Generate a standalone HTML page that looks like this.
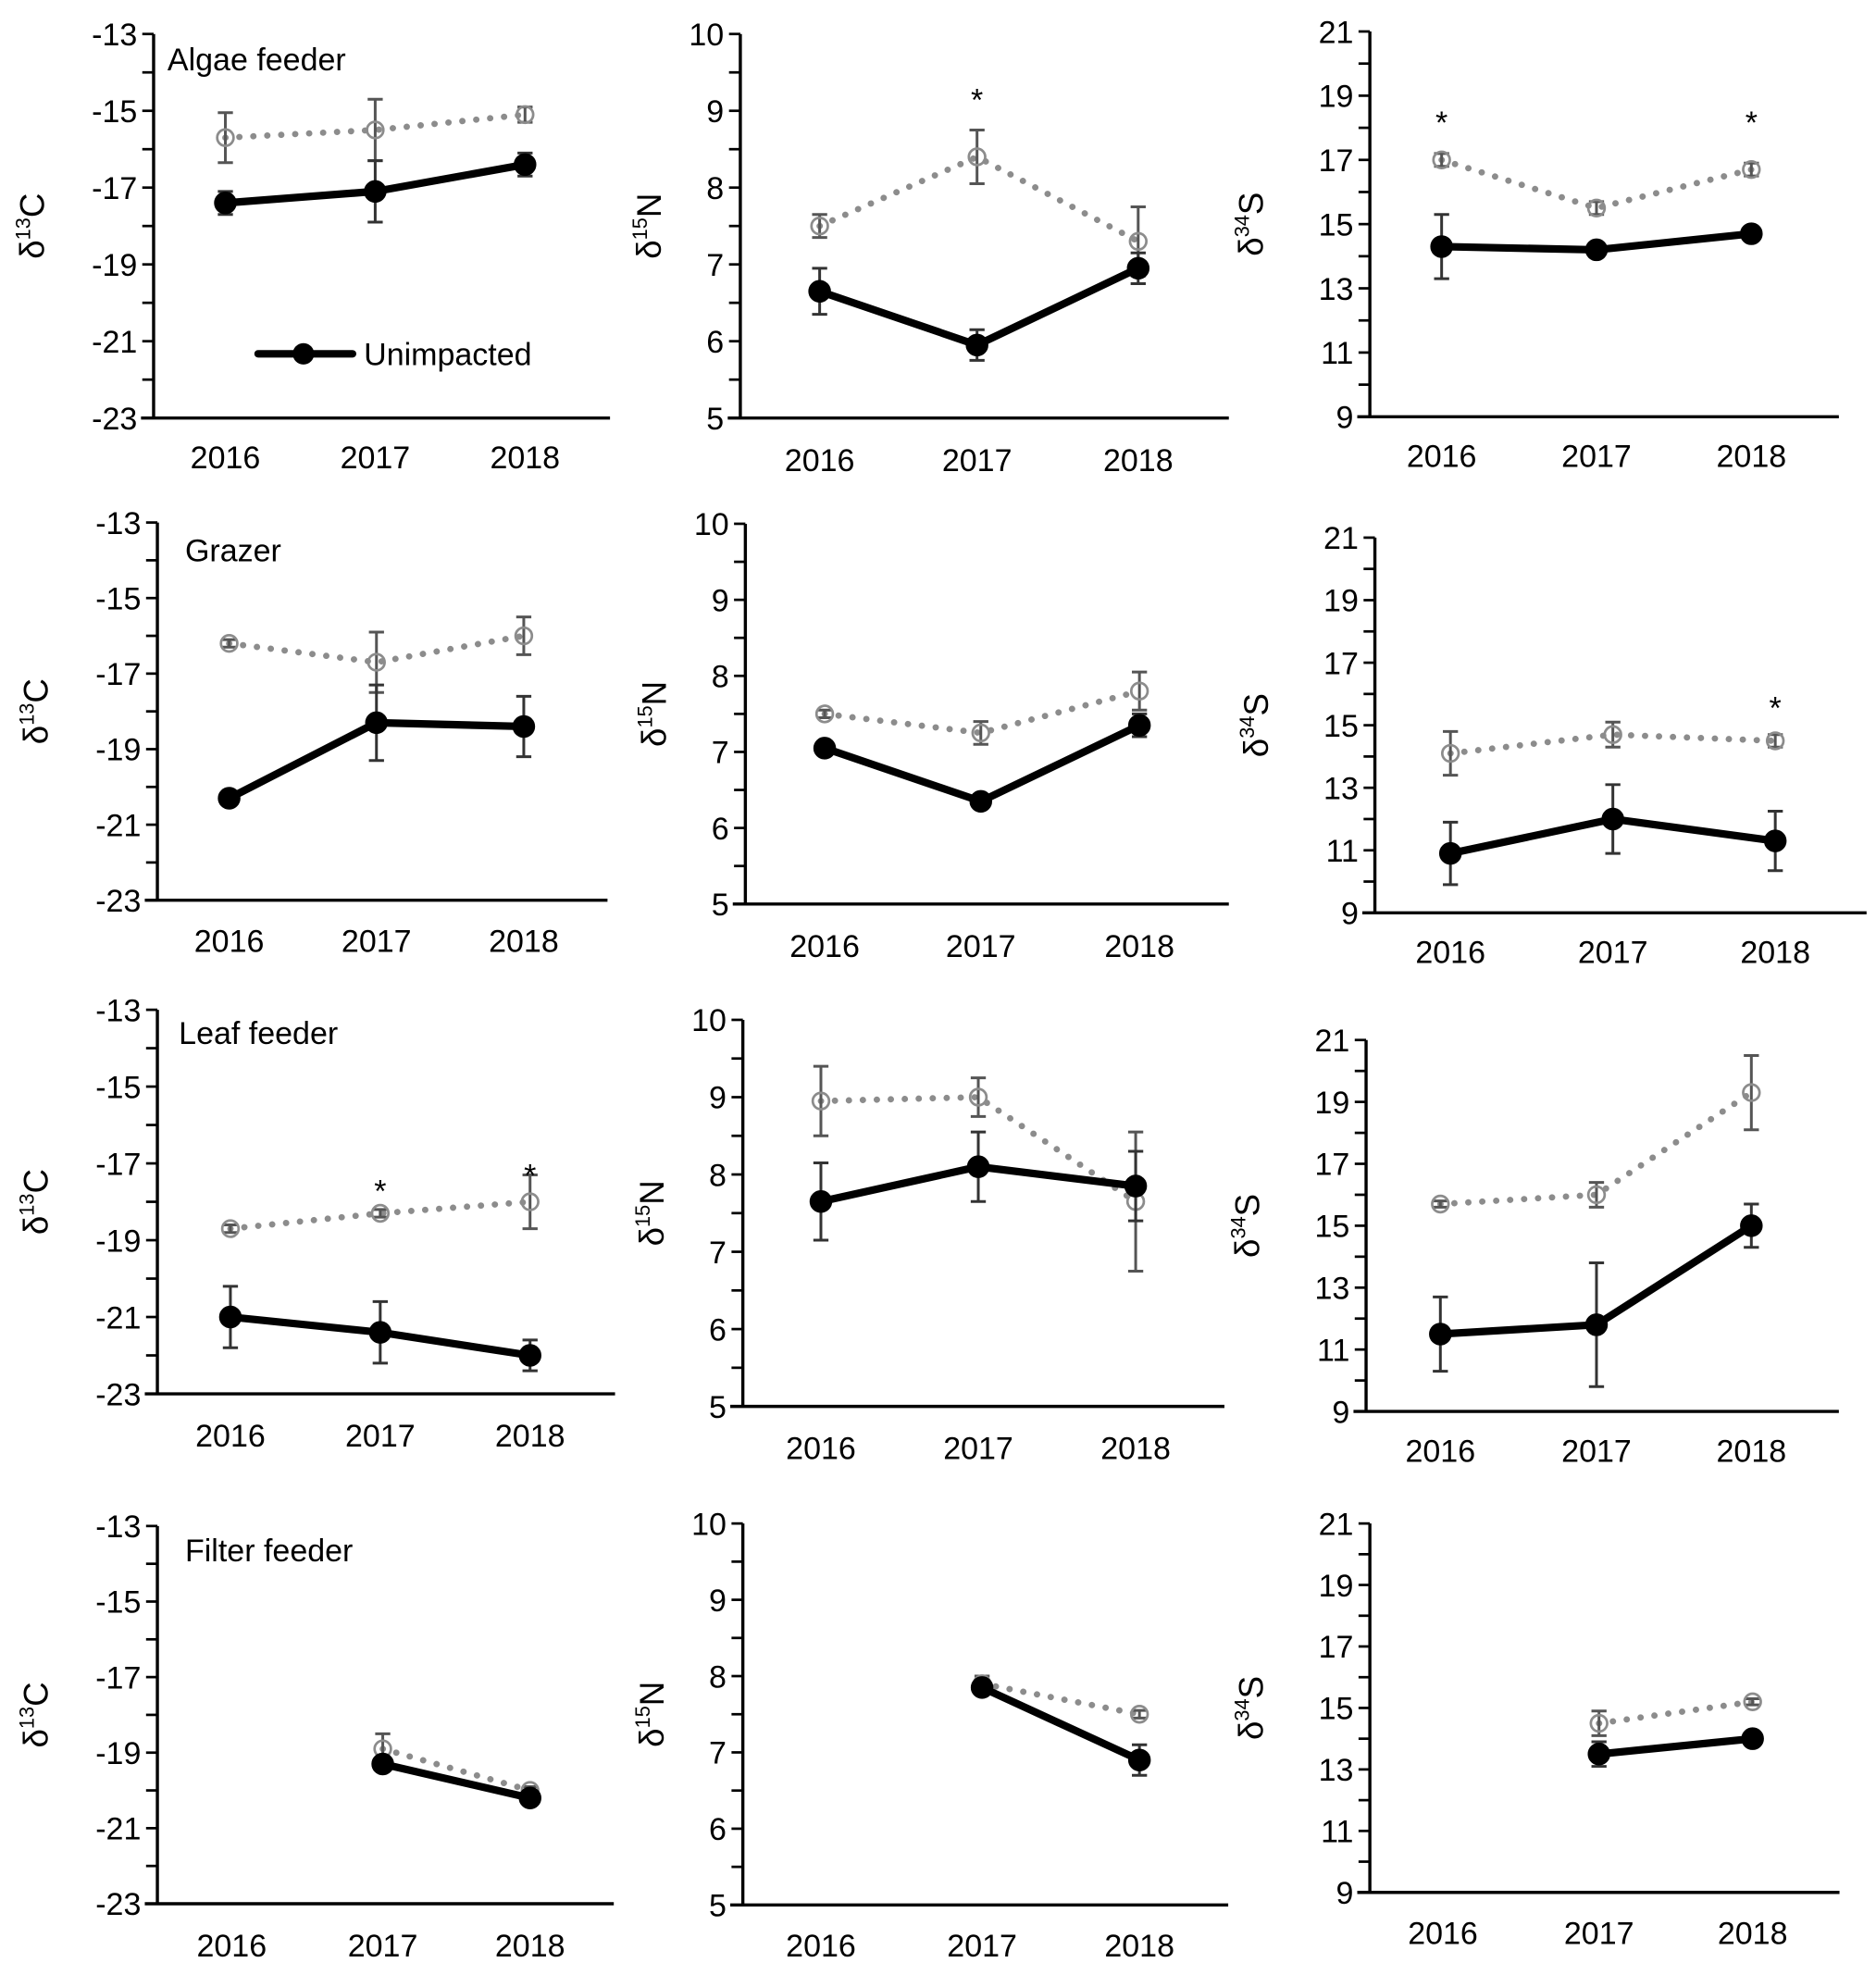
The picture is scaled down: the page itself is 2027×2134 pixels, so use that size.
<!DOCTYPE html>
<html><head><meta charset="utf-8"><style>
html,body{margin:0;padding:0;background:#fff}
svg{display:block}
text{font-family:"Liberation Sans",Arial,sans-serif;fill:#000}
</style></head><body>
<svg id="fig" width="2027" height="2134" viewBox="0 0 1490 1568.6" preserveAspectRatio="none" xmlns="http://www.w3.org/2000/svg"></svg>
<script>
const years = ["2016","2017","2018"];
const isoMin = [-23, 5, 9];
const isoMax = [-13, 10, 21];
const isoStep = [2, 1, 2];
const isoMinor = [1, 0.5, 1];
const isoSup = ["13","15","34"];
const isoEl = ["C","N","S"];
const groupNames = ["Algae feeder","Grazer","Leaf feeder","Filter feeder"];
// impacted (gray) means and errors, [row][col][year]
const impMean = [
 [[-15.7,-15.5,-15.1],[7.5,8.4,7.3],[17.0,15.5,16.7]],
 [[-16.2,-16.7,-16.0],[7.5,7.25,7.8],[14.1,14.7,14.5]],
 [[-18.7,-18.3,-18.0],[8.95,9.0,7.65],[15.7,16.0,19.3]],
 [[null,-18.9,-20.0],[null,7.9,7.5],[null,14.5,15.2]]
];
const impErr = [
 [[0.65,0.8,0.2],[0.15,0.35,0.45],[0.2,0.2,0.2]],
 [[0.1,0.8,0.5],[0.05,0.15,0.25],[0.7,0.4,0.2]],
 [[0.1,0.1,0.7],[0.45,0.25,0.9],[0.1,0.4,1.2]],
 [[0,0.4,0.1],[0,0.1,0.05],[0,0.4,0.1]]
];
const unMean = [
 [[-17.4,-17.1,-16.4],[6.65,5.95,6.95],[14.3,14.2,14.7]],
 [[-20.3,-18.3,-18.4],[7.05,6.35,7.35],[10.9,12.0,11.3]],
 [[-21.0,-21.4,-22.0],[7.65,8.1,7.85],[11.5,11.8,15.0]],
 [[null,-19.3,-20.2],[null,7.85,6.9],[null,13.5,14.0]]
];
const unErr = [
 [[0.3,0.8,0.3],[0.3,0.2,0.2],[1.0,0.1,0.15]],
 [[0.1,1.0,0.8],[0.05,0.05,0.15],[1.0,1.1,0.95]],
 [[0.8,0.8,0.4],[0.5,0.45,0.45],[1.2,2.0,0.7]],
 [[0,0.1,0.1],[0,0.05,0.2],[0,0.4,0.15]]
];
// significance asterisks: [row, col, yearIndex, value position]
const stars = [[0,1,1,9.2],[0,2,0,18.3],[0,2,2,18.3],[1,2,2,15.7],[2,0,1,-17.6],[2,0,2,-17.2]];
// panel geometry (layout, not data)
const axX = [[122,588,1088],[125,592,1092],[125,590,1085],[125,590,1088]];
const axTop = [[27,27,25],[415,416,427],[802,810,826],[1212,1210,1210]];
const axBot = [[332,332,331],[715,718,725],[1107,1117,1121],[1512,1513,1503]];
const catX = [[[179,298,417],[651,776,904],[1145,1268,1391]],[[182,299,416],[655,779,905],[1152,1281,1410]],[[183,302,421],[652,777,902],[1144,1268,1391]],[[184,304,421],[652,780,905],[1146,1270,1392]]];
const labY = [[363,365,362],[747,751,756],[1140,1150,1152],[1545,1545,1535]];
const nameXY = [[133,47],[147,437],[142,820],[147,1231]];
const titleOff = [87,63,85];

const svg = document.getElementById('fig');
const NS = "http://www.w3.org/2000/svg";
function mk(tag, attrs, parent){const e=document.createElementNS(NS,tag);for(const k in attrs)e.setAttribute(k,attrs[k]);(parent||svg).appendChild(e);return e;}

for(let r=0;r<4;r++){for(let c=0;c<3;c++){
  const g=mk('g',{});
  
  
  const x0=axX[r][c], t=axTop[r][c], b=axBot[r][c];
  const lo=isoMin[c], hi=isoMax[c];
  const y=v=>b-(v-lo)/(hi-lo)*(b-t);
  const xs=catX[r][c];
  const xEnd=xs[2]+(xs[2]-xs[1])*0.5+8;
  const ya=mk('line',{x1:x0,y1:t,x2:x0,y2:b,stroke:'#000','stroke-width':2.5},g);
  
  const xa=mk('line',{x1:x0-10,y1:b,x2:xEnd,y2:b,stroke:'#000','stroke-width':2.5},g);
  
  for(let v=lo; v<=hi+1e-9; v+=isoMinor[c]){
    mk('line',{x1:x0-9,y1:y(v),x2:x0,y2:y(v),stroke:'#000','stroke-width':2},g);
  }
  for(let v=lo; v<=hi+1e-9; v+=isoStep[c]){
    const tl=mk('text',{x:x0-13,y:y(v)+9,'text-anchor':'end','font-size':25},g);
    tl.textContent=String(v);
    
  }
  for(let i=0;i<3;i++){
    const tl=mk('text',{x:xs[i],y:labY[r][c]+9,'text-anchor':'middle','font-size':25},g);
    tl.textContent=years[i];
    
  }
  const ty=(t+b)/2, tx=x0-titleOff[c];
  const at=mk('text',{x:tx,y:ty,transform:'rotate(-90 '+tx+' '+ty+')','text-anchor':'middle','font-size':27},g);
  at.innerHTML='δ<tspan font-size="16" dy="-11">'+isoSup[c]+'</tspan><tspan dy="11">'+isoEl[c]+'</tspan>';
  
  if(c===0){
    const nt=mk('text',{x:nameXY[r][0],y:nameXY[r][1]+9,'font-size':25},g);
    nt.textContent=groupNames[r];
    
  }
  const series=[[impMean,impErr,'#8c8c8c',true],[unMean,unErr,'#000',false]];
  for(const [M,E,col,imp] of series){
    const m=M[r][c], e=E[r][c];
    let pts=[];
    for(let i=0;i<3;i++) if(m[i]!==null) pts.push([xs[i],y(m[i])]);
    const pl=mk('polyline',{points:pts.map(p=>p.join(',')).join(' '),fill:'none',stroke:col,
      'stroke-width':imp?5:6,'stroke-dasharray':imp?'0.1 11':'none','stroke-linecap':'round'},g);
    
    for(let i=0;i<3;i++){ if(m[i]===null) continue;
      const cx=xs[i], yt=y(m[i]+e[i]), yb=y(m[i]-e[i]);
      const eb=mk('path',{d:`M${cx},${yt}V${yb}M${cx-6},${yt}H${cx+6}M${cx-6},${yb}H${cx+6}`,stroke:imp?'#555':'#333','stroke-width':2.2,fill:'none'},g);
      
      const pt=mk('circle',{cx:cx,cy:y(m[i]),r:imp?6.5:8.5,fill:imp?'none':'#000',stroke:imp?'#8c8c8c':'#000','stroke-width':imp?2:1},g);
      
    }
  }
  for(const s of stars){ if(s[0]===r&&s[1]===c){
    const st=mk('text',{x:xs[s[2]],y:y(s[3])+12,'text-anchor':'middle','font-size':25},g);
    st.textContent='*';
  }}
}}
const lg=mk('g',{});


mk('line',{x1:205,y1:281,x2:280,y2:281,stroke:'#000','stroke-width':6,'stroke-linecap':'round'},lg);
mk('circle',{cx:241,cy:281,r:8.5,fill:'#000'},lg);
const lt=mk('text',{x:289,y:290,'font-size':25},lg);
lt.textContent='Unimpacted';
</script>
</body></html>
